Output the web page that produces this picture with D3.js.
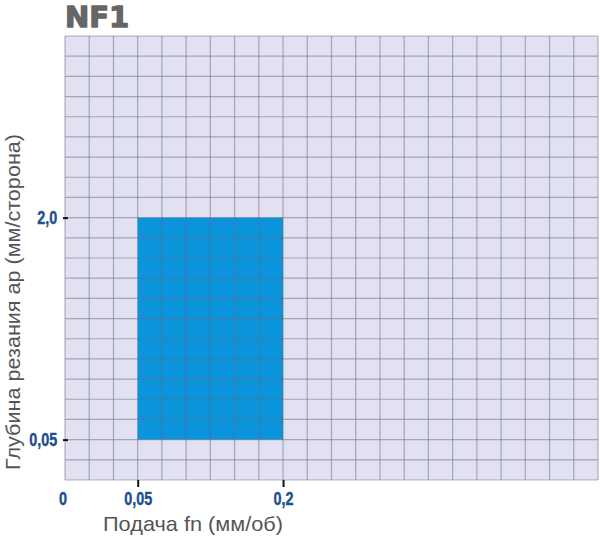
<!DOCTYPE html>
<html><head><meta charset="utf-8">
<script src="https://cdn.jsdelivr.net/npm/d3@7"></script>
<style>body{margin:0;background:#fff}</style>
</head><body>
<script>
const title = "NF1";
const xTitle = "Подача fn (мм/об)";
const yTitle = "Глубина резания ap (мм/сторона)";
const gridCols = 22, gridRows = 22;
// feed ticks (value, grid column index)
const xTickValues = [0, 0.05, 0.2];
const xTickLabels = ["0", "0,05", "0,2"];
const xTickCols = [0, 3, 9];
// depth ticks (value, grid row index from bottom)
const yTickValues = [0.05, 2.0];
const yTickLabels = ["0,05", "2,0"];
const yTickRows = [2, 13];
// application area
const feedRange = [0.05, 0.2];
const depthRange = [0.05, 2.0];

const W = 600, H = 537;
const pLeft = 65, pRight = 598, pTop = 36, pBottom = 480;
const svg = d3.select("body").append("svg").attr("width", W).attr("height", H);

const gx = d3.scaleLinear().domain([0, gridCols]).range([pLeft, pRight]);
const gy = d3.scaleLinear().domain([0, gridRows]).range([pBottom, pTop]);
const x = d3.scaleLinear().domain(xTickValues).range(xTickCols.map(gx));
const y = d3.scaleLinear().domain(yTickValues).range(yTickRows.map(gy));

svg.append("rect").attr("x", pLeft).attr("y", pTop).attr("width", pRight - pLeft).attr("height", pBottom - pTop).attr("fill", "#e1e1f1");
svg.append("rect").attr("x", x(feedRange[0])).attr("y", y(depthRange[1]))
  .attr("width", x(feedRange[1]) - x(feedRange[0])).attr("height", y(depthRange[0]) - y(depthRange[1]))
  .attr("fill", "#0a94dc");

const g = svg.append("g");
g.selectAll(".v").data(d3.range(gridCols + 1)).join("line")
  .attr("x1", d => gx(d)).attr("x2", d => gx(d)).attr("y1", pTop).attr("y2", pBottom)
  .attr("stroke", "#6a6a80").attr("stroke-opacity", 0.5).attr("stroke-width", 1.2);
g.selectAll(".h").data(d3.range(gridRows + 1)).join("line")
  .attr("y1", d => gy(d)).attr("y2", d => gy(d)).attr("x1", pLeft).attr("x2", pRight)
  .attr("stroke", "#6a6a80").attr("stroke-opacity", 0.5).attr("stroke-width", 1.2);

const tickFont = "'Liberation Sans',Arial,sans-serif";
// x axis
const xAxis = d3.axisBottom(x).tickValues(xTickValues).tickFormat((d, i) => xTickLabels[i]).tickSize(7).tickPadding(5);
const xa = svg.append("g").attr("transform", `translate(0,${pBottom})`).call(xAxis);
xa.select(".domain").remove();
xa.selectAll(".tick line").attr("stroke", "#111").attr("stroke-width", 2).attr("opacity", (d, i) => i === 0 ? 0 : 1);
xa.selectAll(".tick text").attr("fill", "#1d4f8f").attr("font-family", tickFont)
  .attr("font-weight", "bold").attr("font-size", 18).attr("transform", "scale(0.8,1)")
  .attr("x", (d, i) => i === 0 ? -3 : 0).attr("stroke", "#1d4f8f").attr("stroke-width", 0.4);

const yAxis = d3.axisLeft(y).tickValues(yTickValues).tickFormat((d, i) => yTickLabels[i]).tickSize(5).tickPadding(4);
const ya = svg.append("g").attr("transform", `translate(${pLeft + 3},0)`).call(yAxis);
ya.select(".domain").remove();
ya.selectAll(".tick line").attr("stroke", "#111").attr("stroke-width", 2);
ya.selectAll(".tick text").attr("fill", "#1d4f8f").attr("font-family", tickFont)
  .attr("font-weight", "bold").attr("font-size", 18).attr("transform", "scale(0.8,1)").attr("x", -13.5)
  .attr("stroke", "#1d4f8f").attr("stroke-width", 0.4);

svg.append("text").attr("x", 65).attr("y", 26.5).text(title)
  .attr("font-family", "'DejaVu Sans',sans-serif").attr("font-weight", "900").attr("font-size", 29)
  .attr("fill", "#666").attr("stroke", "#666").attr("stroke-width", 1.3).attr("stroke-linejoin", "round");

svg.append("text").attr("x", 193).attr("y", 531).attr("text-anchor", "middle").text(xTitle)
  .attr("textLength", 180).attr("lengthAdjust", "spacingAndGlyphs")
  .attr("font-family", "'Liberation Sans',Arial,sans-serif").attr("font-size", 21).attr("fill", "#555");
svg.append("text").attr("transform", "translate(20,302) rotate(-90)").attr("text-anchor", "middle").text(yTitle)
  .attr("textLength", 336).attr("lengthAdjust", "spacingAndGlyphs")
  .attr("font-family", "'Liberation Sans',Arial,sans-serif").attr("font-size", 21).attr("fill", "#555");
</script>
</body></html>
